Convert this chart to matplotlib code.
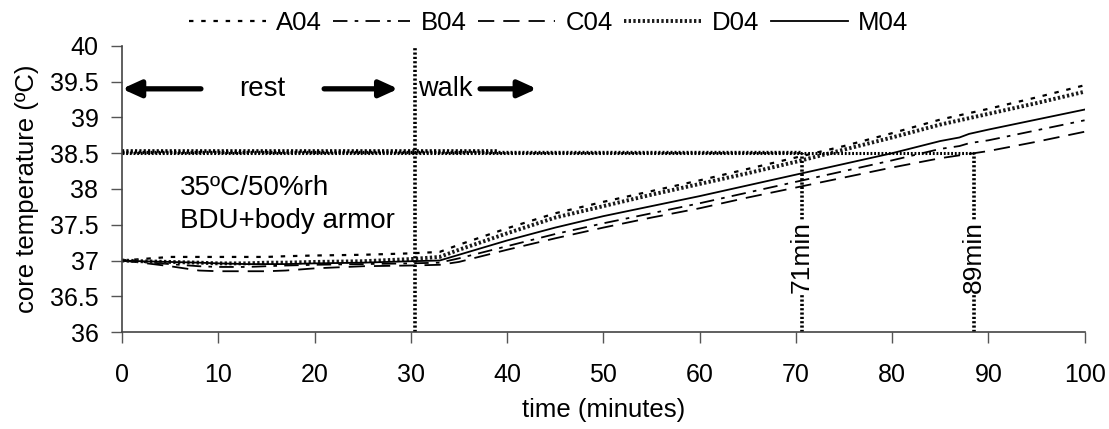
import matplotlib
matplotlib.use("Agg")
import matplotlib.pyplot as plt

plt.rcParams['font.family'] = ['Liberation Sans', 'DejaVu Sans']

time = [0, 2, 5, 8, 10, 13, 15, 17, 20, 25, 30, 33, 35, 40, 45, 50, 55, 60, 65, 70, 75, 80, 85, 87, 88, 90, 95, 100]
A04 = [37.00, 37.02, 37.05, 37.05, 37.05, 37.05, 37.05, 37.06, 37.07, 37.08, 37.10, 37.12, 37.22, 37.45, 37.66, 37.82, 37.97, 38.12, 38.28, 38.44, 38.60, 38.78, 38.97, 39.03, 39.06, 39.12, 39.28, 39.45]
B04 = [37.00, 36.98, 36.95, 36.92, 36.91, 36.91, 36.92, 36.93, 36.94, 36.95, 36.96, 36.97, 37.03, 37.20, 37.37, 37.52, 37.66, 37.80, 37.95, 38.10, 38.25, 38.40, 38.56, 38.60, 38.64, 38.68, 38.82, 38.96]
C04 = [37.00, 36.97, 36.92, 36.86, 36.85, 36.85, 36.85, 36.86, 36.89, 36.92, 36.93, 36.94, 36.98, 37.15, 37.31, 37.46, 37.60, 37.73, 37.88, 38.02, 38.16, 38.30, 38.43, 38.47, 38.49, 38.53, 38.66, 38.80]
D04 = [37.00, 36.99, 36.98, 36.97, 36.96, 36.96, 36.97, 36.97, 36.98, 36.99, 37.02, 37.05, 37.15, 37.38, 37.60, 37.76, 37.92, 38.07, 38.22, 38.38, 38.55, 38.72, 38.90, 38.96, 38.99, 39.05, 39.20, 39.36]
M04 = [37.00, 36.99, 36.98, 36.97, 36.96, 36.95, 36.95, 36.95, 36.96, 36.97, 36.99, 37.00, 37.08, 37.28, 37.46, 37.62, 37.76, 37.90, 38.05, 38.20, 38.35, 38.50, 38.67, 38.72, 38.77, 38.83, 38.97, 39.11]

threshold = 38.5
cross_times = [70.6, 88.5]
cross_labels = ['71min', '89min']
walk_start = 30.4

fig = plt.figure(figsize=(11.09, 4.29), dpi=100)
ax = fig.add_axes([0.110, 0.226, 0.868, 0.667])

dotted_thick = (0, (0.6, 0.6))
ax.plot(time, A04, color='black', lw=1.6, linestyle=(0, (2, 3.5)), label='A04')
ax.plot(time, B04, color='black', lw=1.3, linestyle=(0, (8, 4, 2, 4)), label='B04')
ax.plot(time, C04, color='black', lw=1.3, linestyle=(0, (9, 5)), label='C04')
ax.plot(time, D04, color='#1a1a1a', lw=2.8, linestyle=dotted_thick, label='D04')
ax.plot(time, M04, color='black', lw=1.3, linestyle='-', label='M04')

# threshold lines and crossing markers
ax.plot([0, 39], [threshold + 0.03, threshold + 0.03], color='black', lw=2.6, linestyle=dotted_thick)
ax.plot([0, cross_times[0]], [threshold + 0.02, threshold + 0.02], color='black', lw=2.4, linestyle=dotted_thick)
ax.plot([0, cross_times[1]], [threshold, threshold], color='black', lw=2.2, linestyle=dotted_thick)
for ct in cross_times:
    ax.plot([ct, ct], [36, threshold], color='black', lw=2.6, linestyle=dotted_thick)
for ct, lab in zip(cross_times, cross_labels):
    ax.text(ct, 37.05, lab, rotation=90, ha='center', va='center', fontsize=19,
            bbox=dict(facecolor='white', edgecolor='none', pad=1))
ax.plot([walk_start, walk_start], [36, 40], color='black', lw=2.6, linestyle=dotted_thick)

# arrows and annotations
arrow_kw = dict(arrowstyle='-|>,head_length=1.1,head_width=0.5', color='black', lw=3.8, shrinkA=0, shrinkB=0)
ax.annotate('', xy=(0, 39.4), xytext=(8.2, 39.4), arrowprops=arrow_kw)
ax.annotate('', xy=(28.7, 39.4), xytext=(21, 39.4), arrowprops=arrow_kw)
ax.annotate('', xy=(43.1, 39.4), xytext=(37.2, 39.4), arrowprops=arrow_kw)
ax.text(14.6, 39.4, 'rest', ha='center', va='center', fontsize=20)
ax.text(30.8, 39.4, 'walk', ha='left', va='center', fontsize=19.5)
ax.text(6.0, 38.02, '35ºC/50%rh', ha='left', va='center', fontsize=20)
ax.text(6.0, 37.55, 'BDU+body armor', ha='left', va='center', fontsize=20)

ax.set_xlim(0, 100)
ax.set_ylim(36, 40)
ax.set_xticks(range(0, 101, 10))
ax.set_yticks([36, 36.5, 37, 37.5, 38, 38.5, 39, 39.5, 40])
ax.set_yticklabels(['36', '36.5', '37', '37.5', '38', '38.5', '39', '39.5', '40'])
ax.tick_params(axis='both', direction='out', length=8, width=1, color='#555555', labelsize=18)
ax.tick_params(axis='x', pad=14)
ax.tick_params(axis='y', pad=9)
for s in ['top', 'right']:
    ax.spines[s].set_visible(False)
for s in ['left', 'bottom']:
    ax.spines[s].set_color('#444444')
    ax.spines[s].set_linewidth(1.2)

ax.set_xlabel('time (minutes)', fontsize=18.5, labelpad=8)
ax.set_ylabel('core temperature (ºC)', fontsize=18.5, labelpad=8)

leg = ax.legend(loc='center', bbox_to_anchor=(0.443, 1.08), ncol=5, frameon=False, fontsize=18.5,
                handlelength=3.0, handletextpad=0.4, columnspacing=0.45)

fig.savefig('out.png', dpi=100)
